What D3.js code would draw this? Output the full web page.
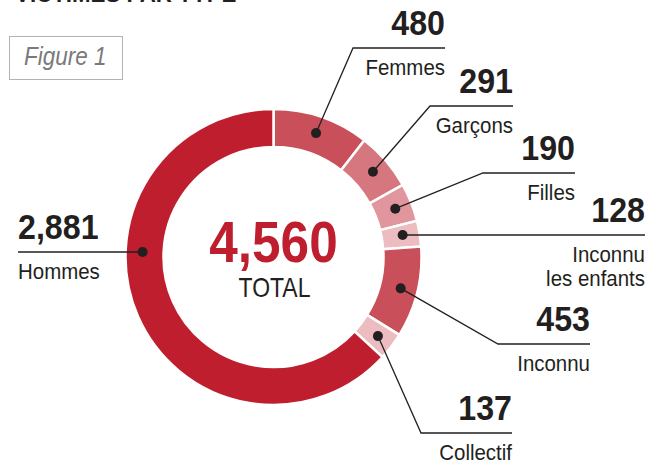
<!DOCTYPE html>
<html>
<head>
<meta charset="utf-8">
<script src="https://cdn.jsdelivr.net/npm/d3@7"></script>
<style>
    body{margin:0;background:#fff;}
    svg text{font-family:'Liberation Sans',Arial,sans-serif;}
</style>
</head>
<body>
<div id="chart"></div>
<script>
let chart_width = 650;
let chart_height = 464;

let categories = ['Femmes','Garçons','Filles','Inconnu les enfants','Inconnu','Collectif','Hommes'];
let label_lines = [['Femmes'],['Garçons'],['Filles'],['Inconnu','les enfants'],['Inconnu'],['Collectif'],['Hommes']];
let values = [480,291,190,128,453,137,2881];
let colors = ['#c94f5a','#d6777f','#e0969c','#ecbcc0','#c94f5a','#ecbcc0','#be1e2d'];
let total_label = 'TOTAL';
let title_text = 'VICTIMES PAR TYPE';
let figure_text = 'Figure 1';

// where each callout sits: x of the text edge, y of the leader line, elbow x
let callouts = [
    {anchor:'end', x:445, lineY:48, elbowX:353},
    {anchor:'end', x:513, lineY:106, elbowX:430},
    {anchor:'end', x:575, lineY:173, elbowX:483},
    {anchor:'end', x:645, lineY:235, elbowX:null},
    {anchor:'end', x:590, lineY:344, elbowX:498},
    {anchor:'end', x:512, lineY:433, elbowX:421},
    {anchor:'start', x:18, lineY:252, elbowX:null}
];

const cx = 273.5, cy = 257;
const outerR = 148, innerR = 110, dotR = 131;
const ink = '#231f20';

let svg = d3.select('#chart')
    .append('svg')
    .attr('width',chart_width)
    .attr('height',chart_height);

// condensed look: squeeze the text horizontally around its anchor point
function squeezed(parent,txt,x,y,anchor,size,weight,sx,fill,style){
    return parent.append('text')
        .text(txt)
        .attr('transform','translate('+x+','+y+') scale('+sx+',1)')
        .attr('text-anchor',anchor)
        .attr('fill',fill)
        .style('font-size',size+'px')
        .style('font-weight',weight)
        .style('font-style',style||'normal');
}

squeezed(svg,title_text,15,2,'start',24,'bold',0.93,ink);

svg.append('rect')
    .attr('x',9.5)
    .attr('y',36.5)
    .attr('width',113)
    .attr('height',43)
    .attr('fill','none')
    .attr('stroke','#b3b3b3')
    .attr('stroke-width',1);

squeezed(svg,figure_text,24,65,'start',25,'normal',0.9,'#7a7a7a','italic');

let pie = d3.pie().sort(null).value(d=>d)(values);
let arc = d3.arc().innerRadius(innerR).outerRadius(outerR);

let donut = svg.append('g')
    .attr('transform','translate('+cx+','+cy+')');

donut.selectAll('path')
    .data(pie)
    .enter()
    .append('path')
    .attr('d',arc)
    .attr('fill',(d,i)=>colors[i])
    .attr('stroke','#ffffff')
    .attr('stroke-width',2.5);

function dotPoint(d,i){
    let c = callouts[i];
    let mid = (d.startAngle+d.endAngle)/2;
    if(c.elbowX===null){
        // horizontal leader: dot where the line meets the ring middle
        let dy = c.lineY-cy;
        let dx = Math.sqrt(dotR*dotR-dy*dy);
        return [cx + (Math.sin(mid)>0 ? dx : -dx), c.lineY];
    }
    return [cx + dotR*Math.sin(mid), cy - dotR*Math.cos(mid)];
}

let fmt = d3.format(',');

pie.forEach(function(d,i){
    let c = callouts[i];
    let p = dotPoint(d,i);
    let g = svg.append('g');
    let pts;
    if(c.elbowX===null){
        pts = [p,[c.x,c.lineY]];
    }
    else{
        pts = [p,[c.elbowX,c.lineY],[c.x,c.lineY]];
    }
    g.append('path')
        .attr('d',d3.line()(pts))
        .attr('fill','none')
        .attr('stroke',ink)
        .attr('stroke-width',1.3);
    g.append('circle')
        .attr('cx',p[0])
        .attr('cy',p[1])
        .attr('r',5)
        .attr('fill',ink);
    squeezed(g,fmt(values[i]),c.x,c.lineY-13,c.anchor,35,'bold',0.92,ink);
    label_lines[i].forEach(function(t,j){
        squeezed(g,t,c.x,c.lineY+27+j*23.5,c.anchor,22,'normal',0.93,ink);
    });
});

squeezed(svg,fmt(d3.sum(values)),cx,262,'middle',57,'bold',0.9,'#be1e2d');
squeezed(svg,total_label,cx+1,297,'middle',28,'normal',0.82,ink);
</script>
</body>
</html>
